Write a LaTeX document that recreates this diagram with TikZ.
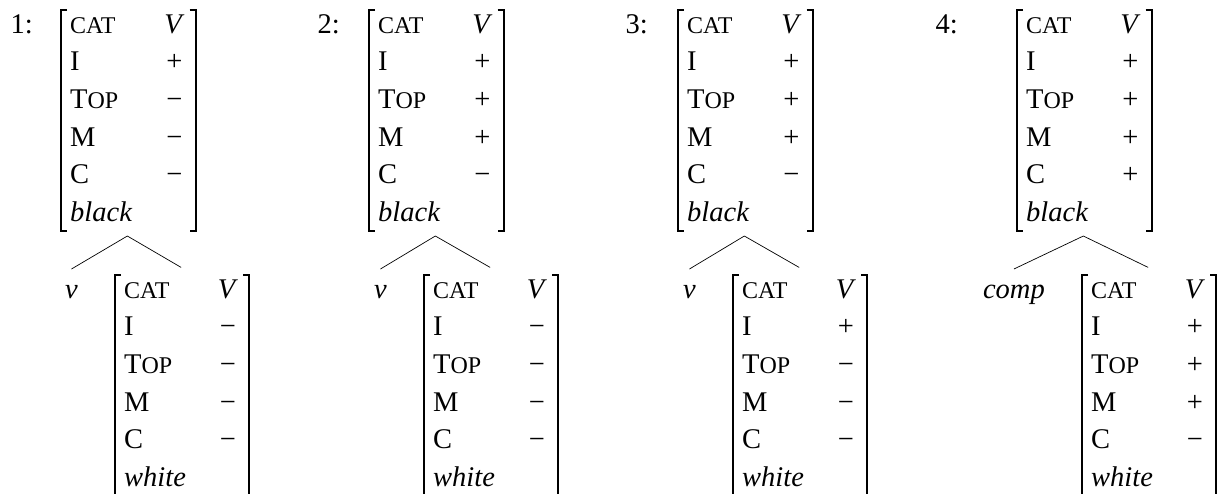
\documentclass[tikz,border=0pt]{standalone}
\usepackage{fontspec}
\setmainfont{Liberation Serif}
\usetikzlibrary{positioning}

% fake small caps, the serif has none
\newcommand\fsc[1]{{\fontsize{24}{37.7}\selectfont #1}}
\newcommand\pl{+}
\newcommand\mi{−}
% feature structure: I, Top, M, C, colour
\newcommand\avm[5]{\begin{tabular}[t]{@{}l@{\hspace{32pt}}c@{}}
  \fsc{CAT} & \textit{V}\\
  I & #1\\
  T\fsc{OP} & #2\\
  M & #3\\
  C & #4\\
  \textit{#5} &
\end{tabular}}

\tikzstyle{fs}=[inner sep=0pt, anchor=base west]
\tikzstyle{num}=[inner sep=0pt]
\tikzstyle{leaf}=[inner sep=0pt]
\tikzstyle{brk}=[line width=2pt]
\tikzstyle{branch}=[line width=0.7pt]

\newcommand\fsbrackets[1]{%
  \draw[brk] ([shift={(-3pt,-4pt)}]#1.north west) -- ++(-6pt,0pt) |- ([shift={(-3pt,2pt)}]#1.south west);
  \draw[brk] ([shift={(5pt,-4pt)}]#1.north east) -- ++(6pt,0pt) |- ([shift={(5pt,2pt)}]#1.south east);}

\begin{document}
\begin{tikzpicture}[x=1pt, y=-1pt, font=\fontsize{28.5}{37.7}\selectfont]
    \useasboundingbox (0,0) rectangle (1218,493);

    % 1
    \node(m1)[fs] at (70,33) {\avm{\pl}{\mi}{\mi}{\mi}{black}};
    \node(n1)[num, base left=37pt of m1] {1:};
    \node(d1)[fs] at (124,298) {\avm{\mi}{\mi}{\mi}{\mi}{white}};
    \node(v1)[leaf, base left=46pt of d1] {\textit{v}};
    \fsbrackets{m1}
    \fsbrackets{d1}
    \draw[branch] ([yshift=-3pt]m1.south) -- ([yshift=29pt]v1.base);
    \draw[branch] ([yshift=-3pt]m1.south) -- ([yshift=4pt]d1.north);

    % 2
    \node(m2)[fs] at (378,33) {\avm{\pl}{\pl}{\pl}{\mi}{black}};
    \node(n2)[num, base left=38pt of m2] {2:};
    \node(d2)[fs] at (433,298) {\avm{\mi}{\mi}{\mi}{\mi}{white}};
    \node(v2)[leaf, base left=46pt of d2] {\textit{v}};
    \fsbrackets{m2}
    \fsbrackets{d2}
    \draw[branch] ([yshift=-3pt]m2.south) -- ([yshift=29pt]v2.base);
    \draw[branch] ([yshift=-3pt]m2.south) -- ([yshift=4pt]d2.north);

    % 3
    \node(m3)[fs] at (687,33) {\avm{\pl}{\pl}{\pl}{\mi}{black}};
    \node(n3)[num, base left=39pt of m3] {3:};
    \node(d3)[fs] at (742,298) {\avm{\pl}{\mi}{\mi}{\mi}{white}};
    \node(v3)[leaf, base left=46pt of d3] {\textit{v}};
    \fsbrackets{m3}
    \fsbrackets{d3}
    \draw[branch] ([yshift=-3pt]m3.south) -- ([yshift=29pt]v3.base);
    \draw[branch] ([yshift=-3pt]m3.south) -- ([yshift=4pt]d3.north);

    % 4
    \node(m4)[fs] at (1026,33) {\avm{\pl}{\pl}{\pl}{\pl}{black}};
    \node(n4)[num, base left=68pt of m4] {4:};
    \node(d4)[fs] at (1091,298) {\avm{\pl}{\pl}{\pl}{\mi}{white}};
    \node(v4)[leaf, base left=46pt of d4] {\textit{comp}};
    \fsbrackets{m4}
    \fsbrackets{d4}
    \draw[branch] ([yshift=-3pt]m4.south) -- ([yshift=29pt]v4.base);
    \draw[branch] ([yshift=-3pt]m4.south) -- ([yshift=4pt]d4.north);
\end{tikzpicture}
\end{document}
